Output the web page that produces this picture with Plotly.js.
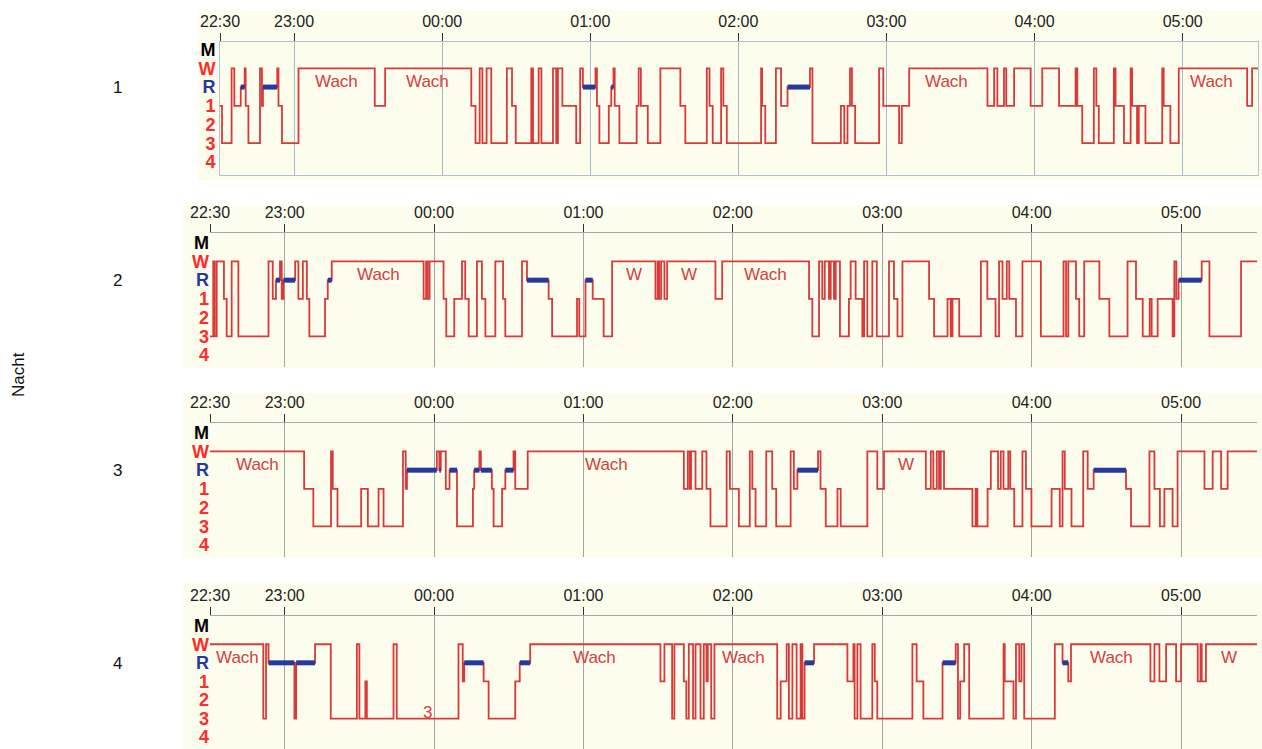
<!DOCTYPE html>
<html>
<head>
<meta charset="utf-8">
<script src="https://cdn.plot.ly/plotly-3.0.1.min.js"></script>
<style>
  html, body { margin: 0; padding: 0; background: #ffffff; }
  #chart { width: 1262px; height: 749px; }
</style>
</head>
<body>
<div id="chart"></div>
<script>
// Time axis: minutes after 22:30
const tickMinutes = [0, 30, 90, 150, 210, 270, 330, 390];
const tickLabels = ['22:30', '23:00', '00:00', '01:00', '02:00', '03:00', '04:00', '05:00'];
const endMinute = 420.5;

// Sleep stages, top to bottom
const stageNames = ['M', 'W', 'R', '1', '2', '3', '4'];
const stageLevels = [7, 6, 5, 4, 3, 2, 1];
const nightNames = ['1', '2', '3', '4'];

// Night 1: stage changes (minute, stage)
const night1Times = [0, 0.8, 4.7, 5.8, 8.4, 10.0, 10.4, 11.5, 16.2, 17.0, 17.4, 23.2, 23.7, 25.1, 31.8, 62.7, 66.9,
  101.8, 103.5, 105.2, 106.3, 108.0, 109.9, 116.2, 118.3, 119.8, 126.1, 126.8, 129.1, 130.2, 134.9, 136.2, 136.9,
  138.7, 144.3, 145.9, 147.0, 152.1, 152.7, 153.7, 157.5, 158.5, 159.4, 159.9, 161.8, 168.8, 169.6, 170.5, 173.3,
  178.4, 186.5, 188.5, 197.2, 198.3, 199.6, 203.0, 203.9, 205.3, 219.2, 219.6, 220.9, 225.2, 227.3, 229.9, 239.0,
  240.0, 251.5, 252.9, 254.2, 255.2, 256.0, 257.3, 267.0, 268.7, 275.1, 276.2, 279.2, 310.9, 313.6, 314.9, 317.6,
  318.5, 321.7, 328.4, 333.1, 339.9, 346.6, 347.3, 349.3, 354.0, 355.0, 356.0, 362.1, 362.8, 366.2, 368.9, 369.5,
  371.5, 372.2, 374.9, 381.7, 382.3, 385.0, 388.4, 416.1, 418.1];
const night1Stages = ['1', '3', 'W', '1', 'R', 'W', '1', '3', 'W', '1', 'R', 'W', '1', '3', 'W', '1', 'W',
  '1', '3', 'W', '3', 'W', '3', 'W', '1', '3', 'W', '3', 'W', '3', 'W', '3', 'W',
  '1', '3', 'W', 'R', 'W', '1', '3', '1', 'R', 'W', '1', '3', '1', 'W', '1', '3',
  'W', '1', '3', 'W', '1', '3', 'W', '1', '3', 'W', '1', '3', 'W', '1', 'R', 'W',
  '3', '1', '3', '1', 'W', '1', '3', 'W', '1', '3', '1', 'W', '1', 'W', '1', 'W',
  '1', 'W', '1', 'W', '1', 'W', '1', '3', 'W', '1', '3', 'W', '1', '3', 'W', '1',
  '3', '1', '3', 'W', '1', '3', 'W', '1', 'W'];

// Night 2
const night2Times = [0, 1.3, 1.9, 2.7, 5.6, 6.7, 8.7, 11.4, 23.5, 25.2, 26.5, 28.1, 28.8, 29.5, 34.2, 35.5, 37.3,
  38.9, 39.9, 46.2, 47.3, 48.9, 85.8, 86.8, 87.4, 88.2, 93.8, 94.9, 98.1, 101.2, 102.5, 103.9, 107.2, 109.2, 110.6,
  114.6, 117.7, 118.6, 125.3, 127.3, 136.0, 137.4, 147.4, 148.3, 150.8, 153.7, 158.1, 161.5, 178.9, 179.8, 180.4,
  181.2, 182.5, 183.6, 203.0, 205.7, 240.6, 241.9, 244.6, 245.9, 246.9, 248.6, 249.3, 250.6, 251.3, 253.0, 256.6,
  257.3, 259.3, 262.0, 262.7, 264.0, 266.0, 267.8, 272.7, 274.7, 276.1, 278.1, 288.8, 290.8, 296.2, 297.5, 298.2,
  300.9, 309.6, 312.2, 315.5, 316.9, 318.3, 320.0, 321.0, 323.7, 326.3, 333.7, 342.8, 343.8, 344.7, 347.8, 349.1,
  351.1, 357.2, 361.2, 368.5, 371.9, 374.6, 377.4, 378.2, 380.6, 386.6, 387.3, 388.1, 389.0, 398.3, 401.4, 414.1];
const night2Stages = ['3', 'W', '3', 'W', '1', '3', 'W', '3', 'W', '1', 'R', 'W', '1', 'R', 'W', '1', 'W',
  '1', '3', '1', 'R', 'W', '1', 'W', '1', 'W', '1', '3', '1', 'W', '1', '3', 'W', '1', '3',
  'W', '1', '3', 'W', 'R', '1', '3', '1', '3', 'R', '1', '3', 'W', '1', 'W', '1',
  'W', '1', 'W', '1', 'W', '1', '3', 'W', '1', 'W', '1', 'W', '1', 'W', '3', '1',
  'W', '1', '3', 'W', '3', 'W', '3', 'W', '1', '3', 'W', '1', '3', '1', '3', '1',
  '3', 'W', '1', '3', 'W', '1', 'W', '1', '3', 'W', '3', 'W', '3', 'W', '1', '3',
  'W', '1', '3', 'W', '1', '3', '1', '3', '1', '3', 'W', '1', 'R', 'W', '3', 'W'];

// Night 3
const night3Times = [0, 37.8, 41.5, 48.6, 49.3, 51.2, 60.7, 63.4, 67.7, 69.7, 77.5, 78.6, 79.1, 91.1, 92.1, 92.7,
  94.7, 96.2, 99.2, 105.6, 106.1, 108.2, 108.8, 113.2, 113.9, 117.3, 118.6, 121.9, 122.6, 127.6, 190.3, 191.9,
  192.7, 193.2, 195.0, 197.7, 199.4, 201.0, 207.5, 208.8, 212.4, 216.8, 217.8, 219.1, 223.4, 225.8, 227.4, 233.2,
  234.5, 235.9, 244.2, 245.2, 247.3, 252.0, 253.3, 264.0, 268.0, 270.7, 287.5, 289.5, 290.5, 291.9, 292.8, 293.5,
  294.8, 306.2, 307.5, 308.2, 312.3, 313.6, 316.5, 317.6, 318.7, 320.6, 321.4, 323.0, 326.3, 327.7, 329.9, 338.0,
  341.3, 342.4, 343.3, 346.0, 350.7, 352.5, 354.9, 367.9, 369.9, 377.3, 379.3, 381.5, 383.3, 386.6, 388.6, 399.4,
  402.7, 406.1, 408.7];
const night3Stages = ['W', '1', '3', 'W', '1', '3', '1', '3', '1', '3', 'W', '1', 'R', 'W', 'R', 'W',
  '1', 'R', '3', '1', 'R', 'W', 'R', '1', '3', '1', 'R', 'W', '1', 'W', '1', 'W',
  '1', 'W', '1', 'W', '1', '3', 'W', '1', '3', 'W', '1', '3', 'W', '1', '3', 'W',
  '1', 'R', 'W', '1', '3', '1', '3', 'W', '1', 'W', '1', 'W', '1', 'W', '1', 'W',
  '1', '3', '1', '3', '1', 'W', '1', 'W', '1', 'W', '1', '3', 'W', '1', '3', '1',
  '3', 'W', '1', '3', 'W', '1', 'R', '1', '3', 'W', '1', '3', '1', '3', 'W', '1',
  'W', '1', 'W'];

// Night 4
const night4Times = [0, 21.4, 22.5, 23.5, 33.9, 34.6, 42.2, 48.5, 59.0, 60.0, 62.4, 63.0, 73.7, 75.0, 99.8, 101.5,
  102.1, 109.9, 111.9, 122.6, 124.4, 128.6, 180.9, 182.5, 185.6, 186.5, 190.3, 191.3, 192.3, 194.0, 195.0, 197.0,
  198.3, 199.4, 199.9, 201.3, 202.6, 227.8, 229.2, 231.6, 232.5, 233.9, 235.6, 237.2, 237.9, 238.8, 242.6, 256.0,
  258.4, 258.9, 260.0, 261.3, 266.0, 267.0, 268.0, 282.1, 283.8, 286.5, 294.2, 299.5, 300.4, 301.3, 302.9, 304.9,
  318.7, 319.2, 322.7, 323.7, 325.0, 325.9, 327.0, 339.3, 342.4, 344.7, 345.8, 377.7, 379.3, 381.3, 384.0, 388.0,
  390.0, 396.7, 397.8, 398.3, 400.0];
const night4Stages = ['W', '3', 'W', 'R', '3', 'R', 'W', '3', 'W', '3', '1', '3', 'W', '3', 'W', '1',
  'R', '1', '3', '1', 'R', 'W', '1', 'W', '3', 'W', '1', '3', 'W', '3', 'W', '3',
  'W', '1', 'W', '3', 'W', '3', '1', 'W', '3', 'W', '3', 'W', '3', 'R', 'W', '1',
  'W', '3', 'W', '3', 'W', '1', '3', 'W', '1', '3', 'R', 'W', '3', '1', 'W', '3',
  'W', '1', '3', 'W', '1', 'W', '3', 'W', 'R', '1', 'W', '1', 'W', '1', 'W', '1',
  'W', '1', 'W', '1', 'W'];

// Text written inside each hypnogram
const night1NoteText = ['Wach', 'Wach', 'Wach', 'Wach'];
const night1NoteMinute = [47.3, 84.2, 294.5, 401.8];
const night1NoteLevel = [5.3, 5.3, 5.3, 5.3];
const night2NoteText = ['Wach', 'W', 'W', 'Wach'];
const night2NoteMinute = [67.6, 170.1, 192.2, 223.2];
const night2NoteLevel = [5.3, 5.3, 5.3, 5.3];
const night3NoteText = ['Wach', 'Wach', 'W'];
const night3NoteMinute = [18.9, 159.2, 279.5];
const night3NoteLevel = [5.3, 5.3, 5.3];
const night4NoteText = ['Wach', '3', 'Wach', 'Wach', 'Wach', 'W'];
const night4NoteMinute = [10.9, 87.3, 154.4, 214.3, 361.9, 409.3];
const night4NoteLevel = [5.3, 2.35, 5.3, 5.3, 5.3, 5.3];

const nights = [
  { times: night1Times, stages: night1Stages, noteText: night1NoteText, noteMinute: night1NoteMinute, noteLevel: night1NoteLevel },
  { times: night2Times, stages: night2Stages, noteText: night2NoteText, noteMinute: night2NoteMinute, noteLevel: night2NoteLevel },
  { times: night3Times, stages: night3Stages, noteText: night3NoteText, noteMinute: night3NoteMinute, noteLevel: night3NoteLevel },
  { times: night4Times, stages: night4Stages, noteText: night4NoteText, noteMinute: night4NoteMinute, noteLevel: night4NoteLevel }
];

const levelOf = {};
stageNames.forEach((s, i) => { levelOf[s] = stageLevels[i]; });

// Page geometry in pixels
const W = 1262, H = 749;
const px = v => v / W;
const py = v => 1 - v / H;
const panels = [
  { left: 220, right: 1258, top: 42, bottom: 175, yRange: [0.30, 7.41], blockLeft: 198, blockTop: 10, blockBottom: 180, grid: '#aab9c6', line: '#b3c3cc', box: true, labelY: 88 },
  { left: 210, right: 1257, top: 233, bottom: 367, yRange: [0.36, 7.52], blockLeft: 183, blockTop: 205, blockBottom: 368, grid: '#a3a3a3', line: '#a9a9a9', box: false, labelY: 280 },
  { left: 210, right: 1257, top: 423, bottom: 557, yRange: [0.36, 7.52], blockLeft: 183, blockTop: 393, blockBottom: 558, grid: '#a3a3a3', line: '#a9a9a9', box: false, labelY: 470 },
  { left: 210, right: 1257, top: 616, bottom: 749, yRange: [0.36, 7.52], blockLeft: 183, blockTop: 583, blockBottom: 749, grid: '#a3a3a3', line: '#a9a9a9', box: false, labelY: 663 }
];

const cream = '#fdfdee';
const stageRed = '#d83a3a';
const remBlue = '#27399b';
const fontFamily = 'Liberation Sans, Arial, sans-serif';

const stageColor = { M: '#000000', W: '#ff2a2a', R: '#26399c', '1': '#ff2a2a', '2': '#ff2a2a', '3': '#ff2a2a', '4': '#ff2a2a' };
const stageTickText = stageNames.map(s => `<b><span style="color:${stageColor[s]}">${s}</span></b>`);

const traces = [];
const layout = {
  width: W, height: H,
  margin: { l: 0, r: 0, t: 0, b: 0 },
  paper_bgcolor: '#ffffff',
  plot_bgcolor: cream,
  showlegend: false,
  shapes: [],
  annotations: []
};

nights.forEach((night, k) => {
  const p = panels[k];
  const sfx = k === 0 ? '' : String(k + 1);
  const xa = 'x' + sfx, ya = 'y' + sfx;

  // Stage line as a step curve
  const xs = night.times.concat([endMinute]);
  const ys = night.stages.map(s => levelOf[s]);
  ys.push(ys[ys.length - 1]);
  traces.push({
    type: 'scatter', mode: 'lines', x: xs, y: ys, xaxis: xa, yaxis: ya,
    line: { color: stageRed, width: 1.8, shape: 'hv' }, hoverinfo: 'skip'
  });

  // REM periods as thick blue bars
  const rx = [], ry = [];
  night.stages.forEach((s, i) => {
    if (s === 'R') {
      const t1 = i + 1 < night.times.length ? night.times[i + 1] : endMinute;
      rx.push(night.times[i], t1, null);
      ry.push(levelOf.R, levelOf.R, null);
    }
  });
  traces.push({
    type: 'scatter', mode: 'lines', x: rx, y: ry, xaxis: xa, yaxis: ya,
    line: { color: remBlue, width: 5 }, hoverinfo: 'skip'
  });

  layout['xaxis' + sfx] = {
    domain: [px(p.left), px(p.right)], range: [0, endMinute], anchor: ya, side: 'top',
    tickmode: 'array', tickvals: tickMinutes, ticktext: tickLabels,
    ticks: 'outside', ticklen: 8, tickcolor: '#333333', tickwidth: 1,
    tickfont: { family: fontFamily, size: 16, color: '#222222' },
    showgrid: true, gridcolor: p.grid, gridwidth: 1, zeroline: false,
    showline: true, linecolor: p.line, linewidth: 1, mirror: p.box, fixedrange: true
  };
  layout['yaxis' + sfx] = {
    domain: [py(p.bottom), py(p.top)], range: p.yRange, anchor: xa,
    tickmode: 'array', tickvals: stageLevels, ticktext: stageTickText, ticks: '',
    tickfont: { family: fontFamily, size: 18, color: '#ff2a2a' },
    showgrid: false, zeroline: false,
    showline: p.box, linecolor: p.line, linewidth: 1, mirror: p.box, fixedrange: true
  };

  // Cream panel block behind axis labels
  layout.shapes.push({
    type: 'rect', xref: 'paper', yref: 'paper', layer: 'below',
    x0: px(p.blockLeft), x1: 1, y0: py(p.blockBottom), y1: py(p.blockTop),
    fillcolor: cream, line: { width: 0 }
  });

  // Notes inside the chart
  night.noteText.forEach((t, i) => {
    layout.annotations.push({
      xref: xa, yref: ya, x: night.noteMinute[i], y: night.noteLevel[i], text: t,
      showarrow: false, xanchor: 'center', yanchor: 'middle',
      font: { family: fontFamily, size: 17, color: '#d2403f' }
    });
  });

  // Night number
  layout.annotations.push({
    xref: 'paper', yref: 'paper', x: px(117), y: py(p.labelY), text: nightNames[k],
    showarrow: false, xanchor: 'center', yanchor: 'middle',
    font: { family: fontFamily, size: 17, color: '#111111' }
  });
});

layout.annotations.push({
  xref: 'paper', yref: 'paper', x: px(18), y: py(375), text: 'Nacht', textangle: -90,
  showarrow: false, xanchor: 'center', yanchor: 'middle',
  font: { family: fontFamily, size: 17, color: '#111111' }
});

Plotly.newPlot('chart', traces, layout, { displayModeBar: false, staticPlot: true });
</script>
</body>
</html>
